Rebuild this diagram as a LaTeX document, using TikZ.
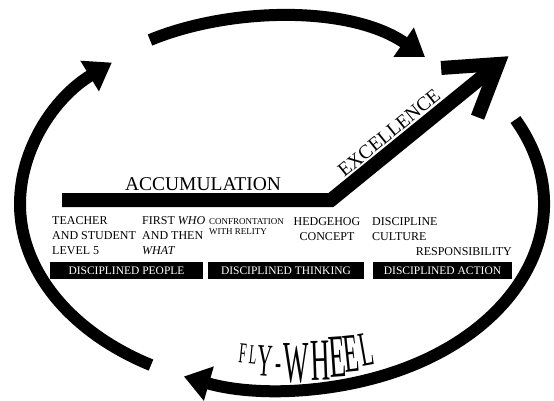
\documentclass[tikz,border=0pt]{standalone}
\usepackage{fontspec}
\setmainfont{Liberation Serif}
\newfontfamily\capfont{Liberation Serif}
\newfontfamily\flyfont[FakeStretch=0.45]{Liberation Serif}
\usetikzlibrary{arrows.meta}

\tikzset{
  wheel/.style={line width=12pt},
  wheeltip/.style={-{Triangle[length=26pt,width=34pt]}},
  bigbar/.style={line width=14pt,line join=miter},
  bigtxt/.style={inner sep=0pt,font=\capfont\fontsize{19.5}{20}\selectfont},
  smalltxt/.style={inner sep=0pt,align=left,font=\capfont\fontsize{12}{15}\selectfont},
  discbox/.style={fill=black,text=white,inner sep=0pt,minimum height=17pt,font=\capfont\fontsize{11.5}{12}\selectfont},
  flyletter/.style={inner sep=0pt,anchor=north west,font=\flyfont},
}

\begin{document}
\begin{tikzpicture}[x=1pt,y=1pt]
\useasboundingbox (0,0) rectangle (554,400);
% fly-wheel ring: one ellipse (centre hub, radii 262/186) cut in three arrowed pieces
\def\rx{262}\def\ry{186}
\coordinate (hub) at (282,196);
\draw[wheel,wheeltip] (hub) ++(240:{\rx} and {\ry}) arc[start angle=240,end angle=130.5,x radius=\rx,y radius=\ry];
\coordinate (topA) at (150,360);
\coordinate (topB) at (425,343);
\draw[wheel,wheeltip] (topA) .. controls (230,393) and (350,395) .. (topB);
\draw[wheel,wheeltip] (hub) ++(27:{\rx} and {\ry}) arc[start angle=27,end angle=-112,x radius=\rx,y radius=\ry];
% accumulation bar, then the climb to excellence
\coordinate (barL) at (62,200);
\coordinate (bend) at (331,200);
\coordinate (tip) at (498,336);
\draw[bigbar] (barL) -- (bend) -- (tip);
\draw[bigbar] (tip) ++(184:57) -- (tip) -- ++(249:57);
\node[bigtxt,anchor=base] (accum) at (203,210) {ACCUMULATION};
\node[bigtxt,rotate=39.2] (excel) at (389,267) {EXCELLENCE};
% the five steps
\node[smalltxt,anchor=north west] (teacher) at (52,183.5) {TEACHER\\AND STUDENT\\LEVEL 5};
\node[smalltxt,anchor=north west] (firstwho) at (142,183.5) {FIRST \textit{WHO}\\AND THEN\\\textit{WHAT}};
\node[smalltxt,anchor=north west,font=\capfont\fontsize{9}{10.5}\selectfont] (confront) at (209,182) {CONFRONTATION\\WITH RELITY};
\node[smalltxt,anchor=north,align=center] (hedgehog) at (327,182.5) {HEDGEHOG\\CONCEPT};
\node[smalltxt,anchor=north west] (culture) at (372,183) {DISCIPLINE\\CULTURE};
\node[smalltxt,anchor=north east] (respons) at (512,153) {RESPONSIBILITY};
% black bands
\node[discbox,minimum width=153pt] (people) at (126.5,129.5) {DISCIPLINED PEOPLE};
\node[discbox,minimum width=156pt] (thinking) at (286,129.5) {DISCIPLINED THINKING};
\node[discbox,minimum width=139pt] (action) at (442.5,129.5) {DISCIPLINED ACTION};
% FLY-WHEEL, letter by letter (size grows to the middle)
\foreach \ch/\xx/\yy/\sz/\rot [count=\i] in {F/240/57/29/-6, L/250/55/27.5/-6, Y/258/55/46/-4, W/283/57/59.5/0,
    H/310/59/59.5/2, E/327/63/61/4, E/342/63/55/6, L/357/65/49/10}
  \node[flyletter,rotate=\rot] (fw\i) at (\xx,\yy) {\fontsize{\sz}{\sz}\selectfont\ch};
\node[flyletter] (fwdash) at (275,36) {\fontsize{40}{40}\selectfont -};
\end{tikzpicture}
\end{document}
